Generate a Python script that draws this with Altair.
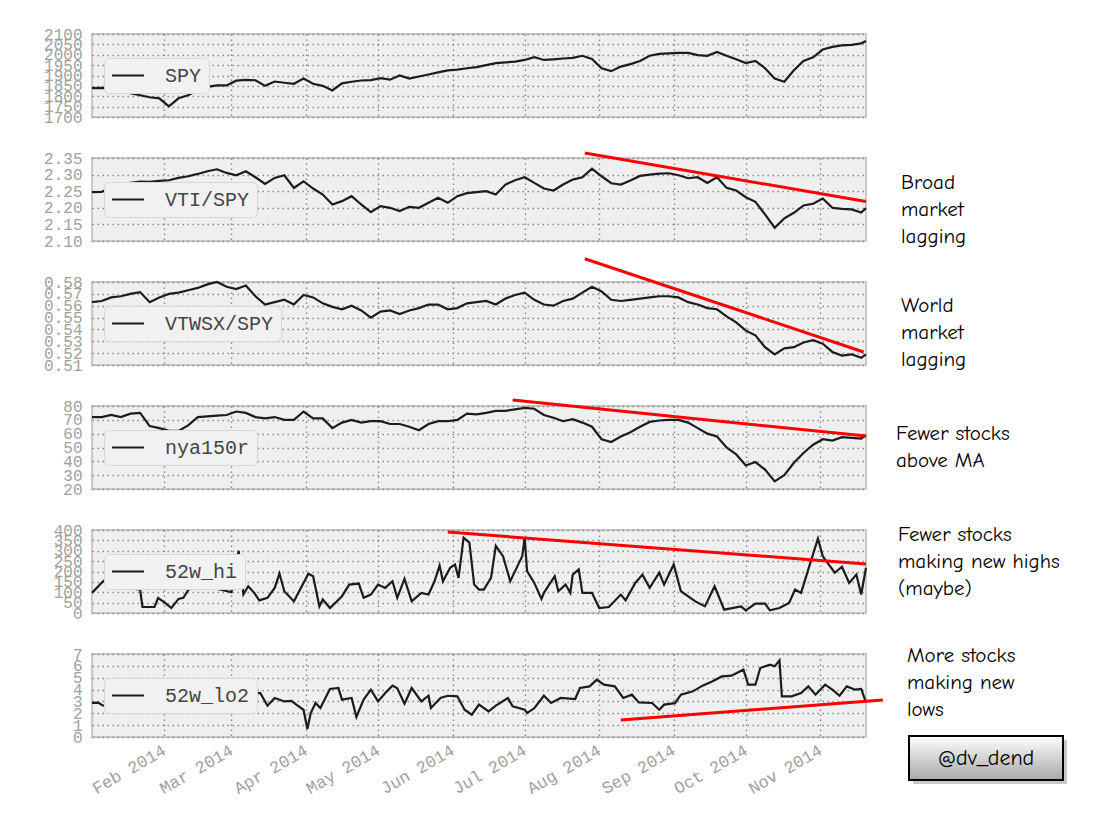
import altair as alt
import pandas as pd

START = pd.Timestamp("2014-01-02")

# sampling positions (days after 2014-01-02) for the smoother series
grid_days = list(range(0, 321, 4)) + [322]

spy = [1839, 1840, 1835, 1830, 1815, 1805, 1795, 1790, 1751, 1790,
       1805, 1830, 1845, 1852, 1852, 1875, 1879, 1877, 1850, 1871,
       1865, 1860, 1885, 1860, 1850, 1828, 1862, 1870, 1876, 1878,
       1887, 1880, 1900, 1885, 1895, 1905, 1915, 1925, 1928, 1935,
       1940, 1950, 1960, 1963, 1967, 1975, 1988, 1975, 1978, 1982,
       1985, 1995, 1980, 1935, 1921, 1943, 1955, 1970, 1995, 2004,
       2007, 2009, 2009, 1998, 1995, 2013, 1995, 1978, 1960, 1970,
       1935, 1885, 1870, 1925, 1970, 1988, 2025, 2038, 2045, 2048,
       2055, 2066]

vti_spy = [2.247, 2.248, 2.26, 2.27, 2.275, 2.279, 2.278, 2.281, 2.283, 2.29,
           2.295, 2.302, 2.31, 2.316, 2.305, 2.298, 2.31, 2.292, 2.272, 2.29,
           2.298, 2.26, 2.28, 2.258, 2.24, 2.21, 2.22, 2.235, 2.21, 2.187,
           2.205, 2.2, 2.19, 2.203, 2.2, 2.215, 2.23, 2.215, 2.235, 2.244,
           2.247, 2.25, 2.24, 2.27, 2.283, 2.292, 2.275, 2.258, 2.252, 2.27,
           2.285, 2.292, 2.318, 2.295, 2.274, 2.27, 2.282, 2.296, 2.3, 2.303,
           2.304, 2.298, 2.289, 2.292, 2.275, 2.292, 2.26, 2.252, 2.232, 2.218,
           2.18, 2.14, 2.168, 2.185, 2.207, 2.212, 2.228, 2.2, 2.197, 2.195,
           2.186, 2.199]

vtwsx_spy = [0.563, 0.564, 0.567, 0.568, 0.570, 0.5715, 0.563, 0.567, 0.570, 0.571,
             0.573, 0.575, 0.578, 0.580, 0.576, 0.574, 0.577, 0.568, 0.561, 0.563,
             0.565, 0.561, 0.569, 0.567, 0.562, 0.559, 0.557, 0.560, 0.556, 0.550,
             0.555, 0.556, 0.553, 0.556, 0.558, 0.561, 0.561, 0.557, 0.558, 0.562,
             0.563, 0.564, 0.561, 0.566, 0.569, 0.571, 0.565, 0.561, 0.560, 0.564,
             0.566, 0.571, 0.576, 0.572, 0.565, 0.564, 0.565, 0.566, 0.567, 0.568,
             0.568, 0.567, 0.563, 0.561, 0.558, 0.557, 0.551, 0.546, 0.539, 0.535,
             0.525, 0.519, 0.524, 0.525, 0.529, 0.531, 0.528, 0.521, 0.518, 0.519,
             0.516, 0.519]

nya150r = [72, 72, 73.5, 72, 74.5, 75, 65.5, 64, 62, 62,
           66, 72, 72.5, 73, 73.5, 76, 75, 72, 71, 72,
           70, 70, 76, 71, 71, 64, 68, 70, 68, 69,
           69, 67, 67, 65, 62.5, 67, 69, 69, 70, 74.5,
           74, 75, 76.5, 76.5, 77.5, 78.6, 78, 73.5, 71.5, 69,
           70.5, 68, 65, 56, 54, 58, 61, 65, 68.5, 69.5,
           70, 70, 68, 64, 60, 58, 50, 45, 37, 39.5,
           34, 25.5, 30, 39, 46, 52, 56, 55, 57.5, 57,
           56.5, 59]

hi_days = [0, 4.6, 8, 12, 16, 20, 21, 26, 27.5, 30, 33, 36, 38, 40, 45, 51, 58, 61, 63,
           65, 67.5, 69.6, 73, 76, 78, 80, 82, 84, 90, 92, 94.6, 96, 99, 104, 107, 111,
           113, 116, 119, 122, 125, 127, 130, 133, 137, 140, 142.5, 144.6, 146, 149, 151,
           152.5, 154.6, 157, 159, 161, 163, 166, 168, 171, 174, 177, 179, 180, 181, 184,
           187, 188, 192.5, 194, 197, 199, 200, 202.5, 204, 208, 211, 215, 220, 222, 226,
           229, 232, 236, 238, 242, 245, 251, 255, 259, 263, 270, 272, 276, 280, 282, 286,
           290, 292.5, 295, 298, 302, 304, 307, 309, 312, 315, 318, 320, 322]
hi_vals = [97, 153, 180, 150, 120, 113, 29, 29, 73, 52, 24, 68, 73, 110, 150, 120, 100, 300, 90,
           129, 97, 61, 73, 121, 190, 105, 81, 56, 189, 177, 32, 65, 24, 81, 137, 142,
           73, 89, 137, 121, 153, 73, 165, 56, 97, 89, 153, 229, 153, 218, 234,
           169, 363, 339, 137, 113, 113, 169, 323, 274, 153, 226, 274, 363, 202, 145,
           68, 97, 177, 105, 137, 97, 185, 210, 97, 97, 24, 29, 89, 61, 145,
           185, 121, 194, 137, 234, 105, 56, 32, 129, 16, 32, 13, 45, 45, 13, 24,
           48, 113, 97, 210, 358, 274, 226, 194, 223, 145, 185, 89, 218]

lo_days = [0, 2.5, 4.6, 12, 25, 37, 50, 62, 70, 73, 76, 80, 83, 85, 88, 89.6, 91, 93, 95,
           99, 102.5, 104, 108, 110, 113, 116, 119, 122, 125, 127, 130, 133, 137, 140, 141,
           145, 148, 152, 155, 158, 161, 165, 168, 173, 175, 180, 181, 184, 188, 191, 195,
           201, 203, 207, 210, 213, 217.5, 221, 224.6, 227.5, 233, 236, 238, 242.5, 245,
           250, 254, 258, 262, 266, 271, 273, 276, 278, 282, 284, 286, 287, 291, 295, 298,
           301, 305, 308, 311, 314, 317.5, 320, 322]
lo_vals = [2.87, 2.9, 2.64, 3.0, 3.3, 2.8, 3.2, 3.5, 3.71, 2.64, 3.29, 3.0, 3.05, 2.73, 2.3, 0.67, 2.02, 2.87, 2.44,
           4.05, 4.13, 3.15, 3.29, 1.69, 3.15, 3.99, 3.0, 3.71, 4.33, 4.1, 2.81, 4.13, 3.0, 3.48, 2.44,
           3.29, 3.48, 3.43, 2.3, 1.88, 2.73, 2.16, 2.64, 3.29, 2.59, 2.3, 2.02, 2.44, 3.48, 2.87, 3.29,
           3.2, 4.13, 4.27, 4.83, 4.41, 4.27, 3.29, 3.57, 2.92, 2.87, 2.3, 2.73, 2.85, 3.57,
           3.85, 4.33, 4.69, 5.11, 5.17, 5.68, 4.41, 4.41, 5.82, 6.1, 5.96, 6.46, 3.43, 3.43, 3.71, 4.27,
           3.57, 4.41, 3.99, 3.48, 4.27, 3.99, 4.05, 2.92]

# red trend lines: (start date, end date), (start value, end value)
trend_vti = (["2014-07-26", "2014-11-20"], [2.365, 2.219])
trend_vtwsx = (["2014-07-26", "2014-11-19"], [0.5996, 0.521])
trend_nya = (["2014-06-26", "2014-11-20"], [84.3, 58.3])
trend_hi = (["2014-05-30", "2014-11-20"], [390, 236])
trend_lo = (["2014-08-10", "2014-11-27"], [1.43, 3.12])

notes = {
    "VTI/SPY": ["Broad", "market", "lagging"],
    "VTWSX/SPY": ["World", "market", "lagging"],
    "nya150r": ["Fewer stocks", "above MA"],
    "52w_hi": ["Fewer stocks", "making new highs", "(maybe)"],
    "52w_lo2": ["More stocks", "making new", "lows"],
}

W, H = 774, 83
MONO = "Liberation Mono"
HAND = "Comic Sans MS, Comic Neue, Noto Sans"

month_ticks = [alt.DateTime(year=2014, month=m, date=1) for m in range(2, 12)]
xscale = alt.Scale(domain=[alt.DateTime(year=2014, month=1, date=2),
                           alt.DateTime(year=2014, month=11, date=20)], nice=False)


def to_dates(days):
    return START + pd.to_timedelta(days, unit="D")


def panel(name, days, vals, ydom, yvals, yfmt, trend=None, note=None, bottom=False,
          note_x=809, note_y=25, extras=None):
    df = pd.DataFrame({"date": to_dates(days), "value": vals, "series": name})
    if bottom:
        xaxis = alt.Axis(values=month_ticks, format="%b %Y", labelAngle=-30,
                         labelAlign="right", labelBaseline="top", labelPadding=5,
                         labelFontSize=17, labelOffset=-4,
                         labelFlush=False, labelOverlap=False, grid=True, title=None)
    else:
        xaxis = alt.Axis(values=month_ticks, labels=False, grid=True, title=None,
                         minExtent=0, maxExtent=0)
    yaxis = alt.Axis(values=yvals, format=yfmt, grid=True, labelOverlap=False,
                     minExtent=78, maxExtent=78, title=None)
    xenc = alt.X("date:T", scale=xscale, axis=xaxis)
    yenc = alt.Y("value:Q", scale=alt.Scale(domain=ydom, nice=False, zero=False), axis=yaxis)
    line = alt.Chart(df).mark_line(strokeWidth=2.2).encode(
        x=xenc, y=yenc,
        color=alt.Color("series:N",
                        scale=alt.Scale(domain=[name], range=["#1c1c1c"]),
                        legend=alt.Legend(orient="none", legendX=12, legendY=24, title=None,
                                          fillColor="#f1f1f1", strokeColor="#d6d6d6",
                                          cornerRadius=5, padding=7, clipHeight=21,
                                          labelFont=MONO, labelFontSize=20, labelColor="#454545",
                                          symbolType="stroke", symbolSize=1024,
                                          symbolStrokeWidth=2, labelOffset=20)),
    )
    layers = [line]
    if trend is not None:
        tdf = pd.DataFrame({"date": pd.to_datetime(trend[0]), "value": trend[1]})
        layers.append(alt.Chart(tdf).mark_line(color="#ff0000", strokeWidth=3, clip=False).encode(
            x=xenc, y=yenc))
    if note is not None:
        layers.append(alt.Chart(pd.DataFrame({"a": [0]})).mark_text(
            text=note, align="left", baseline="middle", font=HAND, fontSize=21,
            lineHeight=27, color="black").encode(x=alt.value(note_x), y=alt.value(note_y)))
    if extras:
        layers.extend(extras)
    return alt.layer(*layers).properties(width=W, height=H)


one = pd.DataFrame({"a": [0]})
grad = alt.LinearGradient(gradient="linear",
                          stops=[alt.GradientStop(color="#ffffff", offset=0),
                                 alt.GradientStop(color="#a8a8a8", offset=1)],
                          x1=0, x2=0, y1=0, y2=1)
badge = [
    alt.Chart(one).mark_rect(fill="#888888", opacity=0.45).encode(
        x=alt.value(821), x2=alt.value(975), y=alt.value(86), y2=alt.value(130)),
    alt.Chart(one).mark_rect(fill=grad, stroke="black", strokeWidth=2).encode(
        x=alt.value(817), x2=alt.value(971), y=alt.value(82), y2=alt.value(126)),
    alt.Chart(one).mark_text(text="@dv_dend", font=HAND, fontSize=22, color="black",
                             align="center", baseline="middle").encode(
        x=alt.value(894), y=alt.value(104)),
]

p1 = panel("SPY", grid_days, spy, [1700, 2100], list(range(1700, 2101, 50)), "d")
p2 = panel("VTI/SPY", grid_days, vti_spy, [2.10, 2.35],
           [2.10, 2.15, 2.20, 2.25, 2.30, 2.35], ".2f",
           trend=trend_vti, note=notes["VTI/SPY"], note_x=809, note_y=25)
p3 = panel("VTWSX/SPY", grid_days, vtwsx_spy, [0.51, 0.58],
           [0.51, 0.52, 0.53, 0.54, 0.55, 0.56, 0.57, 0.58], ".2f",
           trend=trend_vtwsx, note=notes["VTWSX/SPY"], note_x=809, note_y=24)
p4 = panel("nya150r", grid_days, nya150r, [20, 80], list(range(20, 81, 10)), "d",
           trend=trend_nya, note=notes["nya150r"], note_x=804, note_y=28)
p5 = panel("52w_hi", hi_days, hi_vals, [0, 400], list(range(0, 401, 50)), "d",
           trend=trend_hi, note=notes["52w_hi"], note_x=806, note_y=5)
p6 = panel("52w_lo2", lo_days, lo_vals, [0, 7], list(range(0, 8)), "d",
           trend=trend_lo, note=notes["52w_lo2"], note_x=815, note_y=2,
           bottom=True, extras=badge)

chart = alt.vconcat(p1, p2, p3, p4, p5, p6, spacing=41, bounds="flush").resolve_scale(
    color="independent", y="independent"
).resolve_legend(color="independent").properties(
    padding={"left": 5, "top": 17, "right": 5, "bottom": 5}
).configure_view(
    fill="#efefef", stroke="#c8c8c8", strokeWidth=2
).configure_axis(
    grid=True, gridColor="#8a8a8a", gridDash=[1.5, 3.5], gridWidth=1.4, gridOpacity=1,
    domain=False, ticks=False, labelFont=MONO, labelFontSize=16, labelColor="#a0a0a0",
    labelPadding=10, labelOverlap=False
)

chart.save("out.html", embed_options={"renderer": "svg", "actions": False})
